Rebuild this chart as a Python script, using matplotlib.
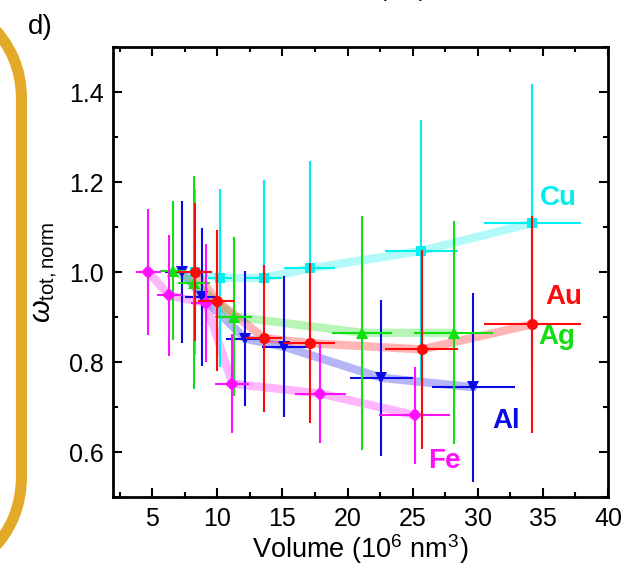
import matplotlib
matplotlib.use("Agg")
import matplotlib.pyplot as plt
from matplotlib.path import Path
from matplotlib.patches import PathPatch
from matplotlib.ticker import MultipleLocator

plt.rcParams['font.family'] = ['Liberation Sans', 'DejaVu Sans']
plt.rcParams['mathtext.fontset'] = 'custom'
plt.rcParams['mathtext.rm'] = 'Liberation Sans'
plt.rcParams['mathtext.it'] = 'Liberation Sans:italic'

# volume (10^6 nm^3), normalised omega, and their uncertainties
fe_x = [4.7, 6.3, 9.1, 11.15, 17.9, 25.15]
fe_y = [1.0, 0.948, 0.931, 0.752, 0.730, 0.682]
fe_xerr = [0.95, 0.95, 1.1, 1.3, 1.95, 2.7]
fe_yerr = [0.14, 0.135, 0.132, 0.11, 0.11, 0.108]

cu_x = [8.3, 10.2, 13.55, 17.1, 25.65, 34.2]
cu_y = [1.0, 0.987, 0.987, 1.008, 1.047, 1.109]
cu_xerr = [0.6, 0.9, 1.4, 1.95, 2.8, 3.7]
cu_yerr = [0.185, 0.198, 0.218, 0.238, 0.29, 0.31]

au_x = [8.3, 9.95, 13.6, 17.1, 25.68, 34.2]
au_y = [1.0, 0.936, 0.853, 0.842, 0.828, 0.884]
au_xerr = [1.3, 1.4, 1.4, 1.95, 2.8, 3.7]
au_yerr = [0.154, 0.157, 0.163, 0.178, 0.222, 0.241]

ag_x = [6.6, 8.2, 11.25, 21.1, 28.15]
ag_y = [1.003, 0.976, 0.901, 0.865, 0.865]
ag_xerr = [1.0, 1.2, 1.4, 2.3, 3.05]
ag_yerr = [0.155, 0.237, 0.177, 0.26, 0.248]

al_x = [7.3, 8.85, 12.13, 15.15, 22.6, 29.65]
al_y = [1.0, 0.945, 0.852, 0.834, 0.765, 0.744]
al_xerr = [1.35, 1.3, 1.45, 1.7, 2.45, 3.2]
al_yerr = [0.157, 0.153, 0.15, 0.157, 0.173, 0.21]

# name, data, colour, marker, label position
series = [
    ("Cu", cu_x, cu_y, cu_xerr, cu_yerr, "#00f0f0", "s", 7, (36.2, 1.164)),
    ("Al", al_x, al_y, al_xerr, al_yerr, "#0a0ae6", "v", 9, (32.15, 0.670)),
    ("Ag", ag_x, ag_y, ag_xerr, ag_yerr, "#10e010", "^", 9, (36.1, 0.855)),
    ("Fe", fe_x, fe_y, fe_xerr, fe_yerr, "#ff10ff", "D", 7.5, (27.4, 0.580)),
    ("Au", au_x, au_y, au_xerr, au_yerr, "#ff0a0a", "o", 8, (36.6, 0.945)),
]

fig = plt.figure(figsize=(6.36, 5.68), dpi=100)
ax = fig.add_axes([0.178, 0.125, 0.778, 0.792])

for name, x, y, xe, ye, col, mk, ms, lpos in series:
    ax.plot(x, y, color=col, lw=6, alpha=0.3, solid_joinstyle='round',
            solid_capstyle='round', zorder=1)

for i, (name, x, y, xe, ye, col, mk, ms, lpos) in enumerate(series):
    ax.errorbar(x, y, xerr=xe, yerr=ye, fmt=mk, color=col, ms=ms,
                elinewidth=1.5, capsize=4, capthick=1.5, mew=0, zorder=2 + i)
    ax.text(lpos[0], lpos[1], name, color=col, fontsize=20, fontweight='bold',
            ha='center', va='center')

ax.set_xlim(2, 40)
ax.set_ylim(0.5, 1.5)
ax.xaxis.set_major_locator(MultipleLocator(5))
ax.xaxis.set_minor_locator(MultipleLocator(2.5))
ax.yaxis.set_major_locator(MultipleLocator(0.2))
ax.yaxis.set_minor_locator(MultipleLocator(0.1))
ax.set_yticks([0.6, 0.8, 1.0, 1.2, 1.4])
ax.tick_params(which='both', direction='in', top=True, right=True,
               labeltop=False, labelright=False, width=1.5, labelsize=18)
ax.tick_params(which='major', length=6.5, pad=7)
ax.tick_params(which='minor', length=3.5)
for sp in ax.spines.values():
    sp.set_linewidth(2)

ax.set_xlabel(r"Volume (10$^{6}$ nm$^{3}$)", fontsize=19.5, labelpad=1)
ax.set_ylabel(r"$\omega_{\mathrm{tot,norm}}$", fontsize=21, labelpad=6)

fig.text(40 / 636, 1 - 27 / 568, "d)", fontsize=20, ha='center', va='center')
fig.text(403 / 636, 1 + 4 / 568, "(nm)", fontsize=17, ha='center',
         va='baseline')

# rounded orange bracket at the left edge, given in pixels from top-left
W, H = 636.0, 568.0
pts = [(-14, 20), (12, 45), (21.5, 70), (21.5, 100),
       (21.5, 475),
       (21.5, 505), (12, 530), (-10, 552)]
codes = [Path.MOVETO, Path.CURVE4, Path.CURVE4, Path.CURVE4,
         Path.LINETO,
         Path.CURVE4, Path.CURVE4, Path.CURVE4]
verts = [(px / W, 1 - py / H) for px, py in pts]
fig.patches.append(PathPatch(Path(verts, codes), transform=fig.transFigure,
                             facecolor='none', edgecolor='#e3aa29', lw=8,
                             capstyle='butt'))

fig.savefig("out.png", dpi=100)
